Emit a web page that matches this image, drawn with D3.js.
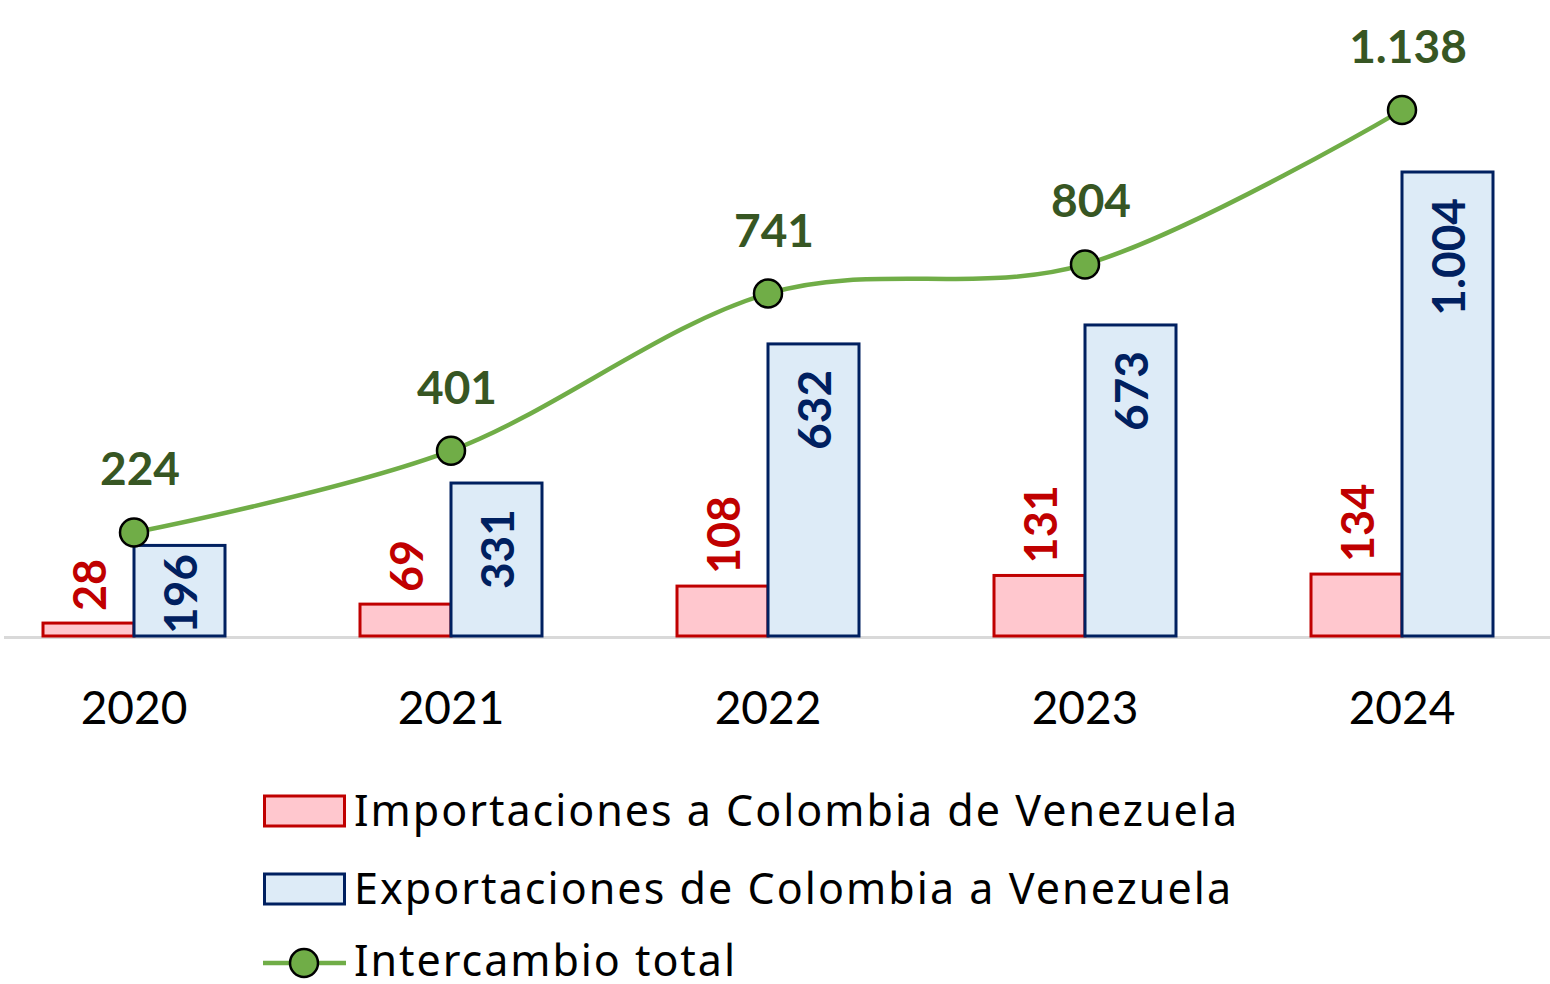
<!DOCTYPE html>
<html>
<head>
<meta charset="utf-8">
<script src="https://cdn.jsdelivr.net/npm/d3@7"></script>
<style>
  body { margin: 0; background: #fff; }
  text { font-family: Lato, "Noto Sans", sans-serif; }
</style>
</head>
<body>
<div id="chart"></div>
<script>
let years = ["2020", "2021", "2022", "2023", "2024"];
let imports = [28, 69, 108, 131, 134];
let exports = [196, 331, 632, 673, 1004];
let total = [224, 401, 741, 804, 1138];
let seriesNames = ["Importaciones a Colombia de Venezuela", "Exportaciones de Colombia a Venezuela", "Intercambio total"];

let width = 1550;
let height = 984;
let baseY = 636;

let fmt = function(v) { return d3.format(",")(v).replace(/,/g, "."); };

let svg = d3.select("#chart")
    .append("svg")
    .attr("width", width)
    .attr("height", height);

let x = d3.scaleBand()
    .domain(years)
    .range([-24.5, 1560.5])
    .padding(0);

let y = d3.scaleLinear()
    .domain([0, 1004])
    .range([baseY, 172]);

let barW = 91;

// baseline
svg.append("line")
    .attr("x1", 4).attr("x2", 1550)
    .attr("y1", baseY + 1.5).attr("y2", baseY + 1.5)
    .attr("stroke", "#d9d9d9")
    .attr("stroke-width", 3);

let cx = function(d) { return x(d) + x.bandwidth() / 2; };

// import bars
svg.selectAll(".imp")
    .data(imports)
    .enter().append("rect")
    .attr("class", "imp")
    .attr("x", function(d, i) { return cx(years[i]) - barW; })
    .attr("y", function(d) { return y(d); })
    .attr("width", barW)
    .attr("height", function(d) { return baseY - y(d); })
    .attr("fill", "#ffc7ce")
    .attr("stroke", "#c00000")
    .attr("stroke-width", 3);

// export bars
svg.selectAll(".exp")
    .data(exports)
    .enter().append("rect")
    .attr("class", "exp")
    .attr("x", function(d, i) { return cx(years[i]); })
    .attr("y", function(d) { return y(d); })
    .attr("width", barW)
    .attr("height", function(d) { return baseY - y(d); })
    .attr("fill", "#ddebf7")
    .attr("stroke", "#002060")
    .attr("stroke-width", 3);

// import labels (outside end, rotated)
svg.selectAll(".impLabel")
    .data(imports)
    .enter().append("text")
    .attr("transform", function(d, i) {
        return "translate(" + (cx(years[i]) - barW / 2 + 1) + "," + (y(d) - 12) + ") rotate(-90)";
    })
    .attr("dy", "0.36em")
    .attr("text-anchor", "start")
    .attr("fill", "#c00000")
    .style("font-size", "45px")
    .style("font-weight", "bold")
    .text(function(d) { return fmt(d); });

// export labels (inside end, rotated); pulled up when the bar is short
svg.selectAll(".expLabel")
    .data(exports)
    .enter().append("text")
    .attr("class", "expLabel")
    .attr("dy", "0.36em")
    .attr("text-anchor", "end")
    .attr("fill", "#002060")
    .style("font-size", "46px")
    .style("font-weight", "bold")
    .text(function(d) { return fmt(d); })
    .attr("transform", function(d, i) {
        let len = this.getComputedTextLength();
        let off = Math.min(26, (baseY - y(d)) - len - 2);
        return "translate(" + (cx(years[i]) + barW / 2 + 1) + "," + (y(d) + off) + ") rotate(-90)";
    });

// total line
let line = d3.line()
    .x(function(d, i) { return cx(years[i]); })
    .y(function(d) { return y(d); })
    .curve(d3.curveCatmullRom.alpha(0));

svg.append("path")
    .datum(total)
    .attr("d", line)
    .attr("fill", "none")
    .attr("stroke", "#70ad47")
    .attr("stroke-width", 4.5);

svg.selectAll(".dot")
    .data(total)
    .enter().append("circle")
    .attr("cx", function(d, i) { return cx(years[i]); })
    .attr("cy", function(d) { return y(d); })
    .attr("r", 14)
    .attr("fill", "#70ad47")
    .attr("stroke", "#000")
    .attr("stroke-width", 2.5);

svg.selectAll(".totLabel")
    .data(total)
    .enter().append("text")
    .attr("x", function(d, i) { return cx(years[i]) + 6; })
    .attr("y", function(d) { return y(d) - 47; })
    .attr("text-anchor", "middle")
    .attr("fill", "#375623")
    .style("font-size", "46px")
    .style("font-weight", "bold")
    .text(function(d) { return fmt(d); });

// x axis labels
let xAxis = d3.axisBottom(x).tickSize(0).tickPadding(0);
let ax = svg.append("g")
    .attr("transform", "translate(0," + 724 + ")")
    .call(xAxis);
ax.select(".domain").remove();
ax.selectAll("text")
    .attr("dy", 0)
    .attr("fill", "#000")
    .style("font-size", "46px")
    .style("font-family", "Lato, 'Noto Sans', sans-serif");

// legend
let legend = svg.append("g").attr("transform", "translate(263,0)");
let rows = [811, 889, 961];
let legWidths = [883, 877, 381];

legend.append("rect")
    .attr("x", 1.5).attr("y", rows[0] - 15)
    .attr("width", 80).attr("height", 30)
    .attr("fill", "#ffc7ce").attr("stroke", "#c00000").attr("stroke-width", 3);

legend.append("rect")
    .attr("x", 1.5).attr("y", rows[1] - 15)
    .attr("width", 80).attr("height", 30)
    .attr("fill", "#ddebf7").attr("stroke", "#002060").attr("stroke-width", 3);

legend.append("line")
    .attr("x1", 0).attr("x2", 83)
    .attr("y1", rows[2] + 2).attr("y2", rows[2] + 2)
    .attr("stroke", "#70ad47").attr("stroke-width", 4.5);

legend.append("circle")
    .attr("cx", 41).attr("cy", rows[2] + 2).attr("r", 14)
    .attr("fill", "#70ad47").attr("stroke", "#000").attr("stroke-width", 2.5);

legend.selectAll(".legText")
    .data(seriesNames)
    .enter().append("text")
    .attr("x", 91)
    .attr("y", function(d, i) { return rows[i]; })
    .attr("dy", "0.35em")
    .attr("fill", "#000")
    .attr("textLength", function(d, i) { return legWidths[i]; })
    .attr("lengthAdjust", "spacing")
    .style("font-family", "'Noto Sans', sans-serif")
    .style("font-size", "43px")
    .text(function(d) { return d; });
</script>
</body>
</html>
